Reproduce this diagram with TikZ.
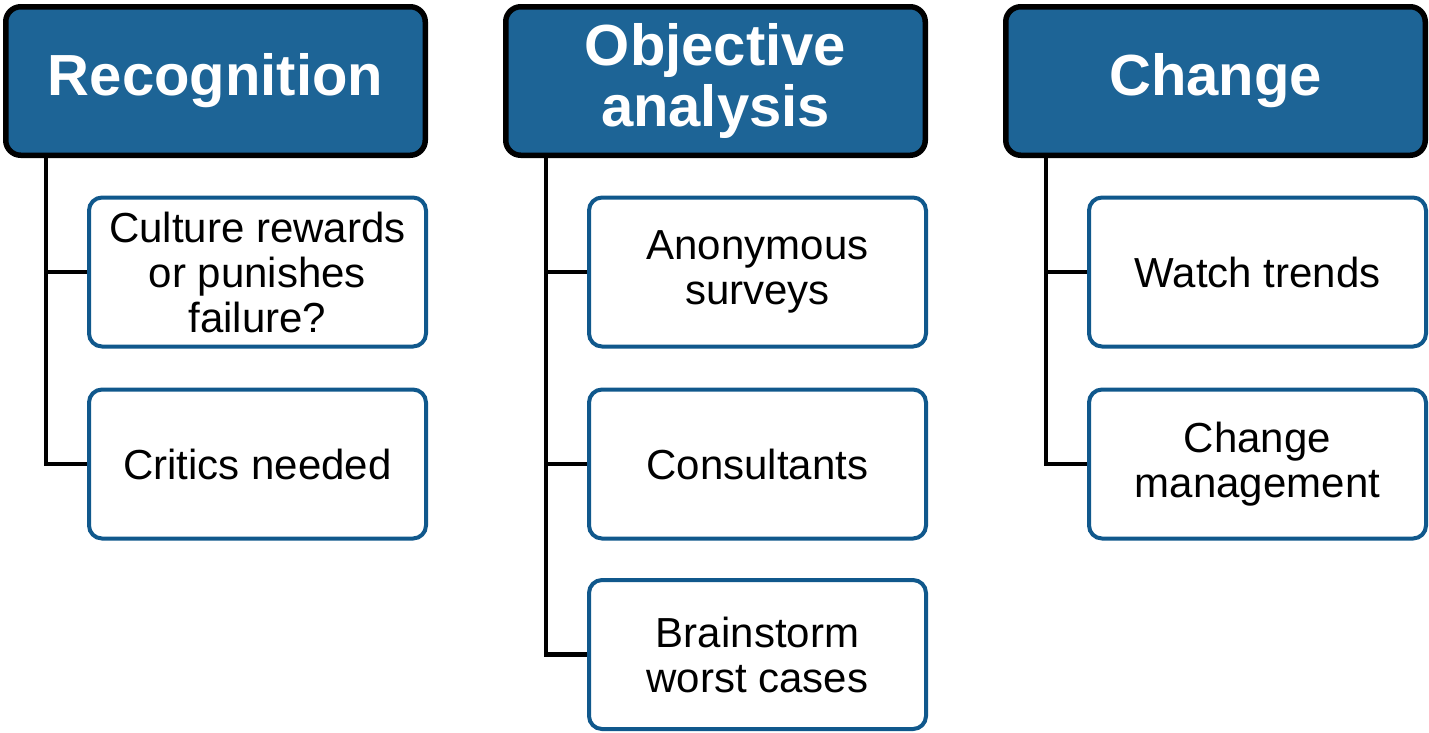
\documentclass[tikz,border=0pt]{standalone}
\usepackage{fontspec}
\setmainfont{Liberation Sans}
\definecolor{headfill}{RGB}{29,100,150}
\definecolor{childline}{RGB}{16,88,140}
\tikzset{
  headbox/.style={draw=black, line width=5.5pt, fill=headfill, rounded corners=15pt,
    minimum width=419.5pt, minimum height=148.5pt, inner sep=0pt, align=center,
    text=white, font=\fontsize{58}{61}\selectfont\bfseries},
  childbox/.style={draw=childline, line width=4pt, fill=white, rounded corners=13pt,
    minimum width=337pt, minimum height=149pt, inner sep=0pt, align=center,
    text=black, font=\fontsize{42}{45}\selectfont},
  conn/.style={draw=black, line width=4.5pt}
}
\begin{document}
\begin{tikzpicture}[x=1pt,y=-1pt]
\useasboundingbox (0,0) rectangle (1429,732);
% column 1
\node[headbox] (h1) at (215.5,81) {Recognition};
\node[childbox] (c11) at (257.5,272) {Culture rewards\\or punishes\\failure?};
\node[childbox] (c12) at (257.5,464) {Critics needed};
% column 2
\node[headbox] (h2) at (715.5,81) {Objective\\analysis};
\node[childbox] (c21) at (757.5,272) {Anonymous\\surveys};
\node[childbox] (c22) at (757.5,464) {Consultants};
\node[childbox] (c23) at (757.5,654.5) {Brainstorm\\worst cases};
% column 3
\node[headbox] (h3) at (1215.5,81) {Change};
\node[childbox] (c31) at (1257.5,272) {Watch trends};
\node[childbox] (c32) at (1257.5,464) {Change\\management};
% connectors
\coordinate (t1) at (46,157);
\coordinate (t2) at (546,157);
\coordinate (t3) at (1046,157);
\draw[conn] (t1) |- (c12.west);
\draw[conn] (t1 |- c11.west) -- (c11.west);
\draw[conn] (t2) |- (c23.west);
\draw[conn] (t2 |- c21.west) -- (c21.west);
\draw[conn] (t2 |- c22.west) -- (c22.west);
\draw[conn] (t3) |- (c32.west);
\draw[conn] (t3 |- c31.west) -- (c31.west);
\end{tikzpicture}
\end{document}
